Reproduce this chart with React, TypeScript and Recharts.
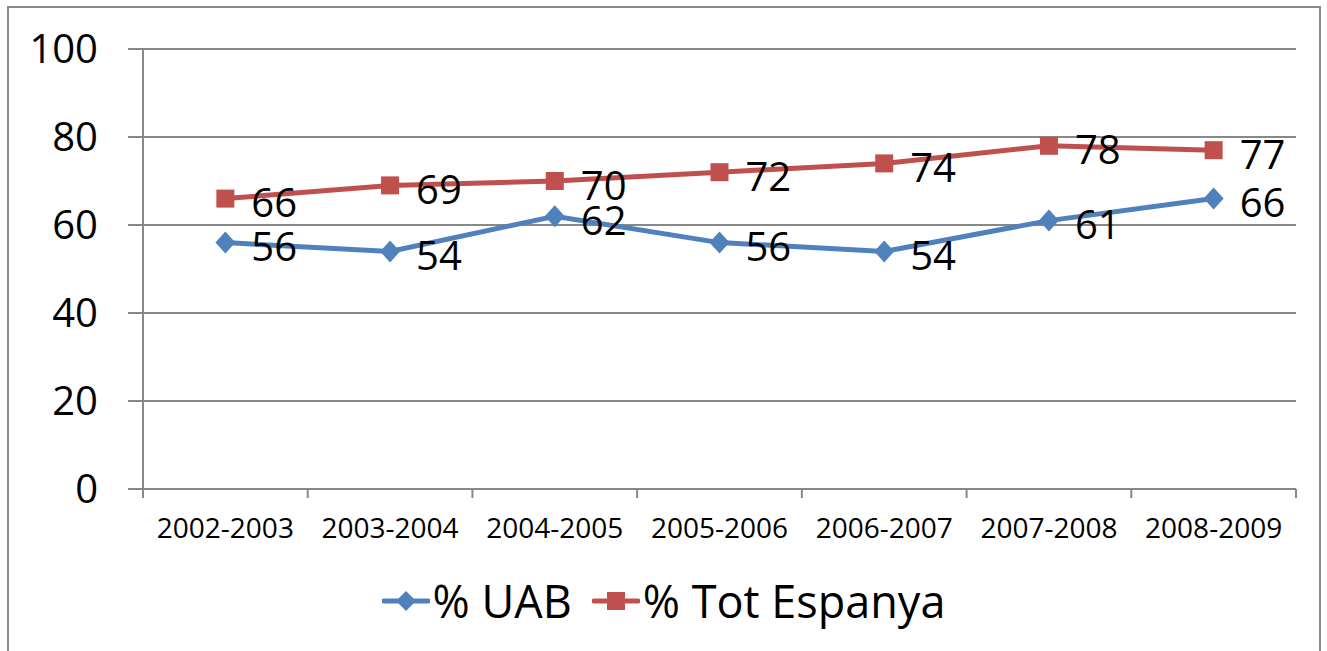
import React from 'react';
import { LineChart, Line, XAxis, YAxis, CartesianGrid, Legend } from 'recharts';

const years = ['2002-2003', '2003-2004', '2004-2005', '2005-2006', '2006-2007', '2007-2008', '2008-2009'];
const uab = [56, 54, 62, 56, 54, 61, 66];
const totEspanya = [66, 69, 70, 72, 74, 78, 77];
const yTicks = [0, 20, 40, 60, 80, 100];

const BLUE = '#4F81BD';
const RED = '#C0504D';
const GRID = '#888888';
const FONT = '"Open Sans", sans-serif';

// numeric x so the category boundaries can carry the tick marks
const data = years.map((name, i) => ({ x: i + 0.5, name, uab: uab[i], esp: totEspanya[i] }));
const boundaryTicks = years.map((_, i) => i).concat(years.length);
const centerTicks = years.map((_, i) => i + 0.5);

const Diamond = ({ cx, cy }: any) => (
  <path d={`M${cx},${cy - 11}L${cx + 10},${cy}L${cx},${cy + 11}L${cx - 10},${cy}Z`} fill={BLUE} />
);

const Square = ({ cx, cy }: any) => (
  <rect x={cx - 9} y={cy - 9} width={18} height={18} fill={RED} />
);

const renderLabel = ({ x, y, value }: any) => (
  <text x={x + 26} y={y + 3} dominantBaseline="central" fontSize={40} fontFamily={FONT} fill="#000">
    {value}
  </text>
);

const EmptyTick = () => <g />;

const legendItems = [
  { label: '% UAB', color: BLUE, shape: 'diamond' },
  { label: '% Tot Espanya', color: RED, shape: 'square' },
];

const renderLegend = () => (
  <div style={{ display: 'flex', justifyContent: 'center', alignItems: 'center', height: 40, fontFamily: FONT }}>
    {legendItems.map((item, i) => (
      <div key={item.label} style={{ display: 'flex', alignItems: 'center', marginLeft: i ? 20 : 0 }}>
        <svg width={48} height={24}>
          <line x1={2} y1={12} x2={46} y2={12} stroke={item.color} strokeWidth={5} strokeLinecap="round" />
          {item.shape === 'diamond' ? (
            <path d="M24,2L34,12L24,22L14,12Z" fill={item.color} />
          ) : (
            <rect x={15} y={3} width={18} height={18} fill={item.color} />
          )}
        </svg>
        <span style={{ fontSize: 45, marginLeft: 3, lineHeight: '40px' }}>{item.label}</span>
      </div>
    ))}
  </div>
);

export default function App() {
  return (
    <div style={{ position: 'fixed', left: 0, top: 0, width: 1327, height: 651, background: '#fff', overflow: 'hidden' }}>
      <div
        style={{
          position: 'absolute',
          left: 7,
          top: 6,
          width: 1314,
          height: 700,
          border: '2px solid #8c8c8c',
          boxSizing: 'border-box',
        }}
      />
      <LineChart
        width={1327}
        height={651}
        data={data}
        margin={{ top: 49, right: 31, bottom: 52, left: 0 }}
        style={{ position: 'absolute', left: 0, top: 0 }}
      >
        <CartesianGrid vertical={false} stroke={GRID} strokeWidth={2} />
        <XAxis
          type="number"
          dataKey="x"
          domain={[0, years.length]}
          ticks={boundaryTicks}
          tick={EmptyTick}
          tickSize={9}
          height={10}
          axisLine={{ stroke: GRID, strokeWidth: 2 }}
          tickLine={{ stroke: GRID, strokeWidth: 2 }}
        />
        <XAxis
          xAxisId="labels"
          type="number"
          dataKey="x"
          domain={[0, years.length]}
          ticks={centerTicks}
          tickFormatter={(v: number) => years[Math.round(v - 0.5)]}
          axisLine={false}
          tickLine={false}
          tickSize={0}
          tickMargin={19}
          height={60}
          interval={0}
          tick={{ fontSize: 28, fill: '#000', fontFamily: FONT }}
        />
        <YAxis
          domain={[0, 100]}
          ticks={yTicks}
          width={143}
          tickSize={15}
          tickMargin={30}
          axisLine={{ stroke: GRID, strokeWidth: 2 }}
          tickLine={{ stroke: GRID, strokeWidth: 2 }}
          tick={{ fontSize: 40, fill: '#000', fontFamily: FONT }}
        />
        <Legend verticalAlign="bottom" height={40} content={renderLegend} wrapperStyle={{ top: 581, bottom: 'auto', left: 0, width: 1327 }} />
        <Line
          dataKey="uab"
          name="% UAB"
          stroke={BLUE}
          strokeWidth={5}
          dot={Diamond}
          activeDot={false}
          label={renderLabel}
          isAnimationActive={false}
        />
        <Line
          dataKey="esp"
          name="% Tot Espanya"
          stroke={RED}
          strokeWidth={5}
          dot={Square}
          activeDot={false}
          label={renderLabel}
          isAnimationActive={false}
        />
      </LineChart>
    </div>
  );
}
